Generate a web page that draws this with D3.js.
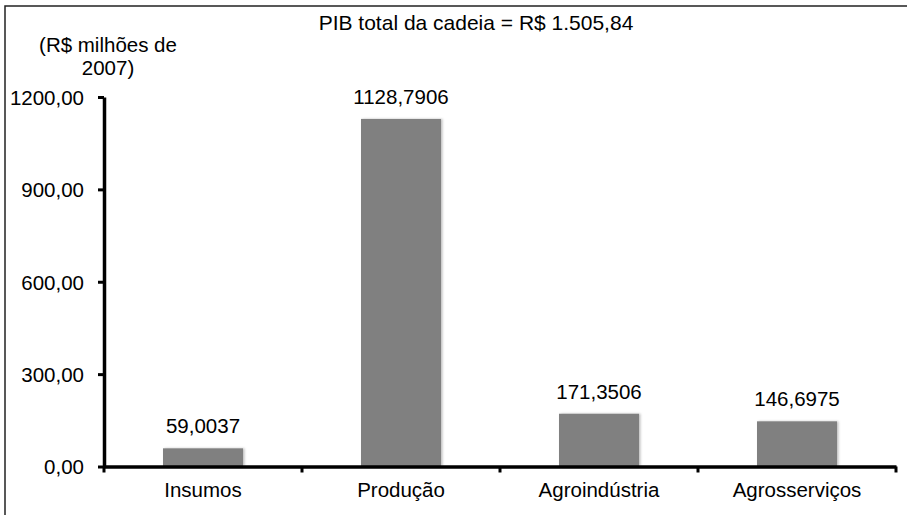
<!DOCTYPE html>
<html>
<head>
<meta charset="utf-8">
<script src="https://cdn.jsdelivr.net/npm/d3@7/dist/d3.min.js"></script>
<style>
  html, body { margin: 0; padding: 0; background: #fff; }
  svg text { font-family: "Liberation Sans", Arial, sans-serif; fill: #000; }
</style>
</head>
<body>
<svg id="chart" width="907" height="515"></svg>
<script>
const categories = ["Insumos", "Produção", "Agroindústria", "Agrosserviços"];
const values = [59.0037, 1128.7906, 171.3506, 146.6975];
const valueLabels = ["59,0037", "1128,7906", "171,3506", "146,6975"];
const yTicks = [0, 300, 600, 900, 1200];
const yTickLabels = ["0,00", "300,00", "600,00", "900,00", "1200,00"];
const titleText = "PIB total da cadeia = R$ 1.505,84";
const yUnitLines = ["(R$ milhões de", "2007)"];

const svg = d3.select("#chart");
const W = 907, H = 515;
const plot = { left: 104, right: 896, top: 97, bottom: 466.5 };
const FS = "20.5px";

// outer frame (right & bottom edges lie outside the picture)
svg.append("rect")
  .attr("x", 5).attr("y", 6).attr("width", W + 10).attr("height", H + 10)
  .attr("fill", "none").attr("stroke", "#222").attr("stroke-width", 1.5);

const x = d3.scaleBand().domain(categories)
  .range([plot.left, plot.right]).paddingInner(0.596).paddingOuter(0.298);
const y = d3.scaleLinear().domain([0, 1200]).range([plot.bottom, plot.top]);

const defs = svg.append("defs");
const f = defs.append("filter").attr("id", "sh").attr("x", "-10%").attr("y", "-10%").attr("width", "130%").attr("height", "130%");
f.append("feDropShadow").attr("dx", 1.5).attr("dy", 0).attr("stdDeviation", 0.8).attr("flood-color", "#000").attr("flood-opacity", 0.25);

// bars
svg.append("g").selectAll("rect").data(values).join("rect")
  .attr("x", (d, i) => x(categories[i]))
  .attr("width", x.bandwidth())
  .attr("y", d => y(d))
  .attr("height", d => y(0) - y(d))
  .attr("fill", "#808080")
  .attr("filter", "url(#sh)");

// value labels
svg.append("g").selectAll("text").data(values).join("text")
  .attr("x", (d, i) => x(categories[i]) + x.bandwidth() / 2)
  .attr("y", d => y(d) - 15)
  .attr("text-anchor", "middle")
  .attr("font-size", FS)
  .text((d, i) => valueLabels[i]);

// y axis
const yAxis = d3.axisLeft(y).tickValues(yTicks)
  .tickFormat((d, i) => yTickLabels[i]).tickSize(6).tickSizeOuter(0).tickPadding(14);
const gy = svg.append("g").attr("transform", `translate(${plot.left},0)`).call(yAxis);
gy.select(".domain").attr("stroke", "#000").attr("stroke-width", 3.5);
gy.selectAll(".tick line").attr("stroke", "#000").attr("stroke-width", 3);
gy.selectAll(".tick text").attr("font-size", FS).attr("font-family", "Liberation Sans, Arial, sans-serif").attr("fill", "#000").attr("dy", "0.36em");

// x axis
const xAxis = d3.axisBottom(x).tickSize(0).tickSizeOuter(0).tickPadding(16);
const gx = svg.append("g").attr("transform", `translate(0,${plot.bottom})`).call(xAxis);
gx.select(".domain").attr("stroke", "#000").attr("stroke-width", 3.5);
gx.selectAll(".tick text").attr("font-size", FS).attr("font-family", "Liberation Sans, Arial, sans-serif").attr("fill", "#000").attr("dy", "0.71em");

// boundary tick marks between categories
const bounds = [x.range()[0]].concat(categories.map(c => x(c) - x.step() * x.paddingInner() / 2 + x.step()));
gx.append("g").selectAll("line").data(bounds).join("line")
  .attr("x1", d => d).attr("x2", d => d)
  .attr("y1", 0).attr("y2", 6)
  .attr("stroke", "#000").attr("stroke-width", 3);

// title
svg.append("text").attr("x", 476).attr("y", 30)
  .attr("text-anchor", "middle").attr("font-size", "21px").text(titleText);

// unit label
svg.append("text").attr("x", 108).attr("y", 52)
  .attr("text-anchor", "middle").attr("font-size", FS)
  .selectAll("tspan").data(yUnitLines).join("tspan")
  .attr("x", 108).attr("dy", (d, i) => i === 0 ? 0 : 23).text(d => d);
</script>
</body>
</html>
